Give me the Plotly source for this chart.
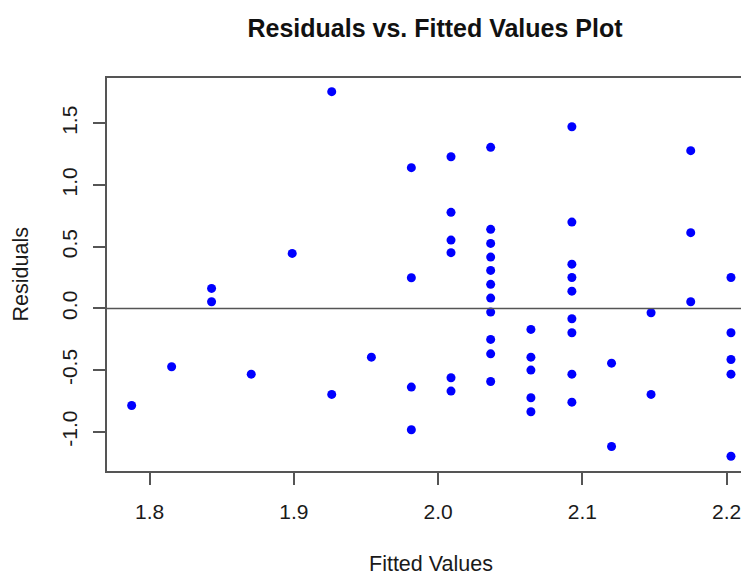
import plotly.graph_objects as go

# Fitted values (x) and residuals (y)
fitted = (
    [1.7875]
    + [1.8152]
    + [1.8429] * 2
    + [1.8704]
    + [1.8988]
    + [1.9262] * 2
    + [1.9537]
    + [1.9814] * 4
    + [2.0089] * 6
    + [2.0364] * 11
    + [2.0643] * 5
    + [2.0927] * 9
    + [2.1202] * 2
    + [2.1476] * 2
    + [2.1751] * 3
    + [2.2030] * 5
)
residuals = [
    -0.787,
    -0.473,
    0.162, 0.054,
    -0.533,
    0.446,
    1.757, -0.697,
    -0.395,
    1.141, 0.249, -0.638, -0.984,
    1.230, 0.779, 0.554, 0.452, -0.562, -0.670,
    1.306, 0.641, 0.527, 0.416, 0.308, 0.195, 0.084, -0.030, -0.251, -0.368, -0.592,
    -0.170, -0.395, -0.500, -0.724, -0.838,
    1.473, 0.700, 0.359, 0.251, 0.140, -0.084, -0.197, -0.533, -0.760,
    -0.444, -1.119,
    -0.035, -0.697,
    1.279, 0.614, 0.054,
    0.251, -0.197, -0.414, -0.533, -1.198,
]
x_ticks = [1.8, 1.9, 2.0, 2.1, 2.2]
y_ticks = [-1.0, -0.5, 0.0, 0.5, 1.0, 1.5]

FONT = "Liberation Sans, Arial, sans-serif"
OFF = 8  # page body margin
W, H = 749 - OFF, 576 - OFF
ML, MR, MT, MB = 107 - OFF, 0, 78 - OFF, 576 - 471
PW = W - ML - MR

fig = go.Figure()
fig.add_trace(go.Scatter(
    x=fitted, y=residuals, mode="markers",
    marker=dict(color="#0000ff", size=9, line=dict(width=0)),
    showlegend=False, hoverinfo="x+y",
))

fig.add_shape(type="line", xref="paper", yref="y", x0=0, x1=1, y0=0, y1=0,
              line=dict(color="#555555", width=1.5))

fig.update_layout(
    width=W, height=H,
    margin=dict(l=ML, r=MR, t=MT, b=MB, pad=0),
    paper_bgcolor="white", plot_bgcolor="white",
    font=dict(family=FONT, color="#1a1a1a", size=21),
    title=dict(text="<b>Residuals vs. Fitted Values Plot</b>",
               x=(435 - OFF) / W, xanchor="center", xref="container",
               y=1 - (28 - OFF) / H, yanchor="middle", yref="container",
               font=dict(size=25, color="#111111", family=FONT)),
    xaxis=dict(range=[1.7704, 2.2155], tickvals=x_ticks,
               ticktext=[f"{v:.1f}" for v in x_ticks],
               showgrid=False, zeroline=False,
               showline=True, linecolor="#555555", linewidth=1.5, mirror=True,
               ticks="outside", ticklen=12, tickwidth=1.5, tickcolor="#555555",
               ticklabelstandoff=9,
               tickfont=dict(size=21, family=FONT, color="#1a1a1a")),
    yaxis=dict(range=[-1.318, 1.868], tickvals=y_ticks,
               ticktext=[f"{v:.1f}" for v in y_ticks],
               showgrid=False, zeroline=False,
               showline=True, linecolor="#555555", linewidth=1.5, mirror=False,
               ticks="outside", ticklen=12, tickwidth=1.5, tickcolor="#555555",
               tickangle=-90, ticklabelstandoff=8,
               tickfont=dict(size=21, family=FONT, color="#1a1a1a")),
    annotations=[
        dict(text="Fitted Values", x=(431 - 107) / PW, xref="paper", y=0, yref="paper",
             showarrow=False, font=dict(size=21.5, family=FONT, color="#1a1a1a"),
             xanchor="center", yanchor="middle", yshift=-(564 - 471)),
        dict(text="Residuals", x=0, xref="paper", y=0.5, yref="paper",
             textangle=-90, showarrow=False,
             font=dict(size=21.5, family=FONT, color="#1a1a1a"),
             xanchor="center", yanchor="middle", xshift=-(107 - 20)),
    ],
)

fig.write_html("out.html")
